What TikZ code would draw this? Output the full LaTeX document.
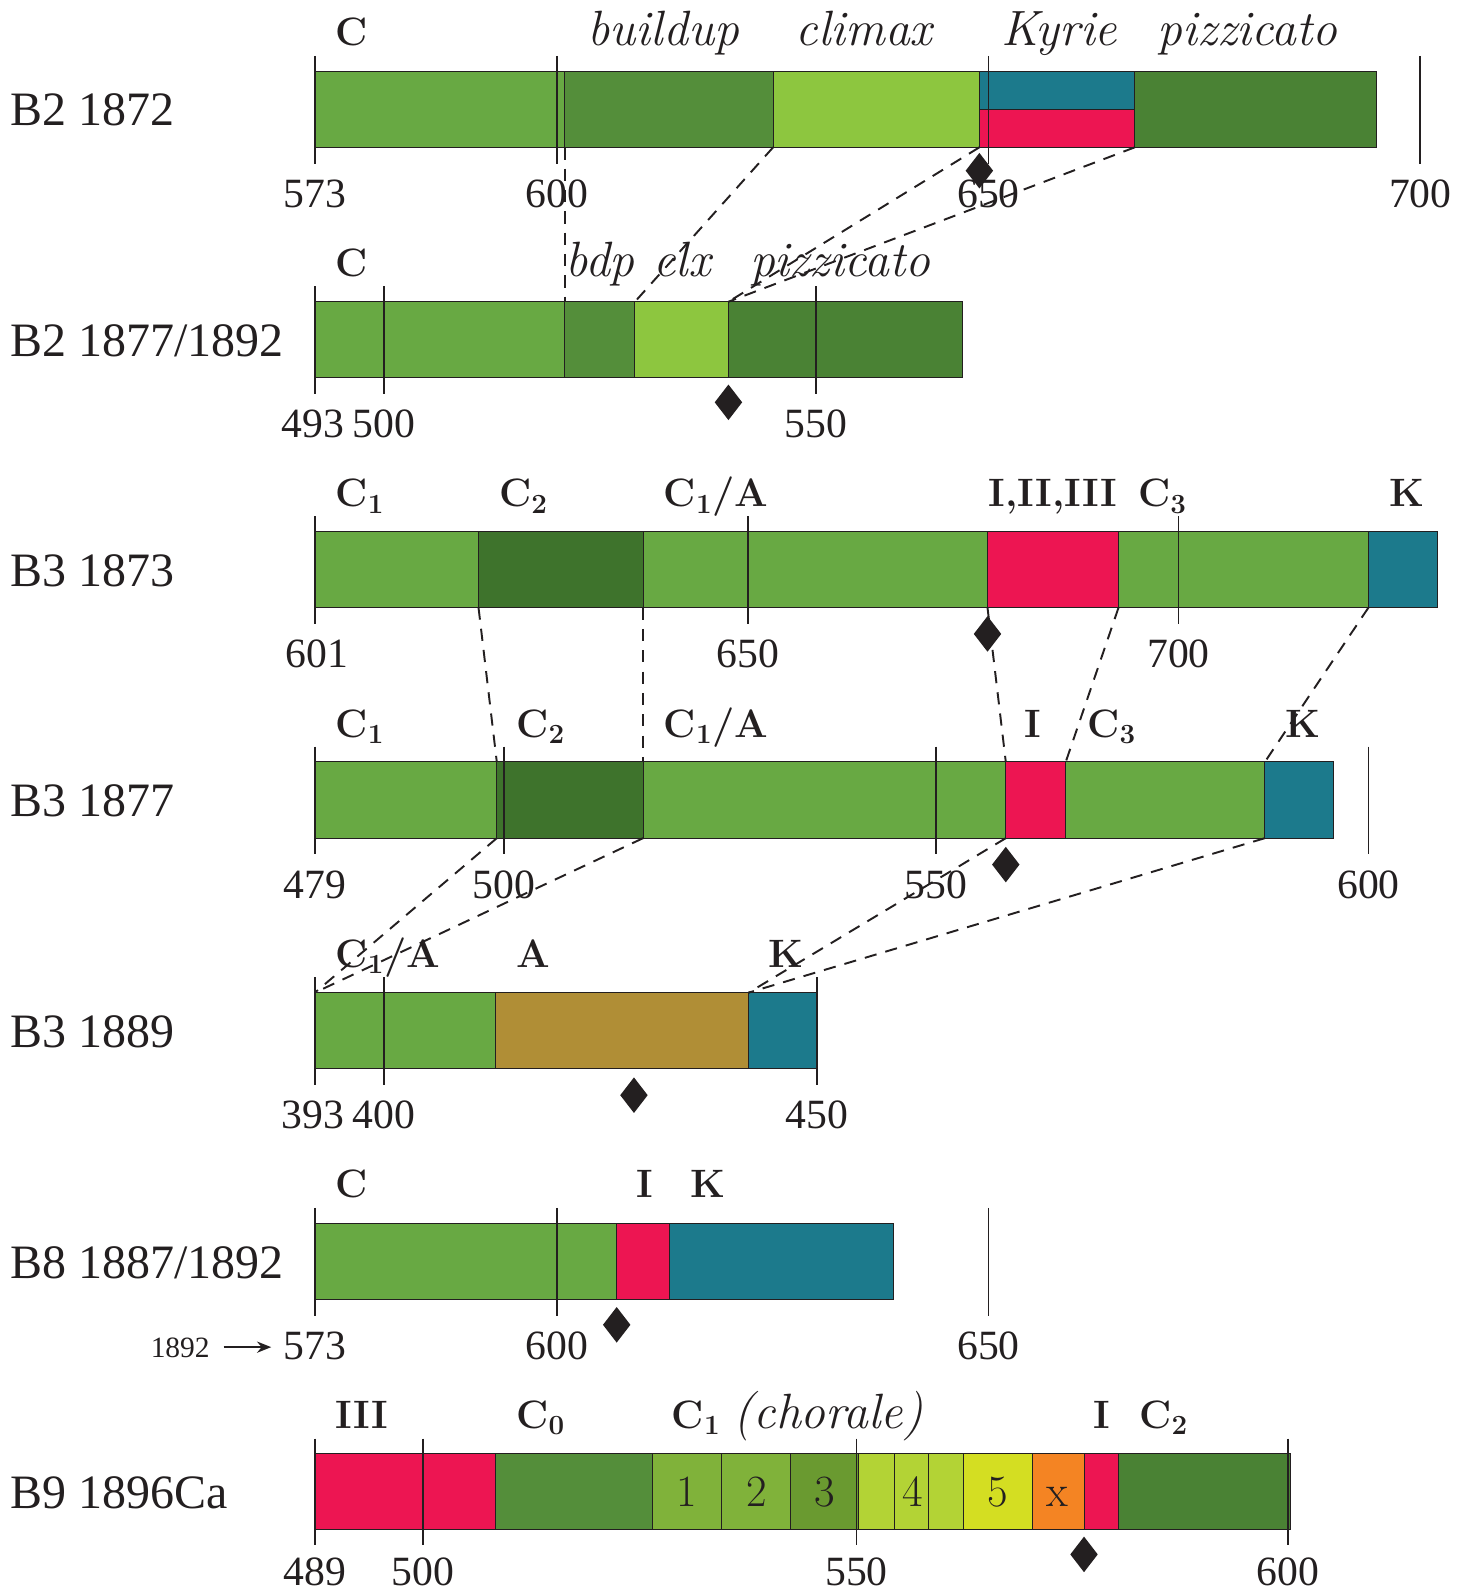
\documentclass[tikz,border=0pt]{standalone}
\usepackage{fontspec}
\newfontfamily\tms{Liberation Serif}
\usetikzlibrary{arrows.meta}
\definecolor{cL}{HTML}{68A943}
\definecolor{cB}{HTML}{548E3A}
\definecolor{cY}{HTML}{8DC63F}
\definecolor{cP}{HTML}{4A8234}
\definecolor{cD}{HTML}{3E732C}
\definecolor{cA}{HTML}{B08E36}
\definecolor{cT}{HTML}{1C7A8C}
\definecolor{cR}{HTML}{ED1552}
\definecolor{cOne}{HTML}{80B23A}
\definecolor{cThree}{HTML}{6A9A30}
\definecolor{cFour}{HTML}{B3D335}
\definecolor{cFive}{HTML}{D4DE22}
\definecolor{cX}{HTML}{F48423}
\definecolor{ink}{HTML}{231F20}
\newcommand\segm[5]{\filldraw[segbox,fill=#5] (#1,#3) rectangle (#2,#4);}
\newcommand\tck[3]{\draw[tickln] (#1,#2-15) -- (#1,#3+16);}
\newcommand\dmd[2]{\fill[ink] (#1,#2) +(0,-17.5) -- +(13.5,0) -- +(0,17.5) -- +(-13.5,0) -- cycle;}
\begin{document}
\begin{tikzpicture}[x=0.5pt,y=-0.5pt,
  segbox/.style={draw=ink,line width=0.5pt},
  tickln/.style={draw=ink,line width=0.9pt},
  link/.style={draw=ink,line width=0.95pt,dash pattern=on 6pt off 4.5pt},
  rowlab/.style={anchor=base west,inner sep=0pt,font=\tms\fontsize{23.6}{23.6}\selectfont,text=ink},
  num/.style={anchor=base,inner sep=0pt,font=\tms\fontsize{20.5}{20.5}\selectfont,text=ink},
  blab/.style={anchor=base west,inner sep=0pt,font=\fontsize{19.5}{19.5}\selectfont\bfseries,text=ink},
  ilab/.style={anchor=base west,inner sep=0pt,font=\fontsize{24.4}{24.4}\selectfont\itshape,text=ink},
  boxnum/.style={anchor=base,inner sep=0pt,font=\fontsize{22}{22}\selectfont,text=ink}]
\useasboundingbox (0,0) rectangle (1434,1568);

% ---------------- Row 1: B2 1872
\node[rowlab] (l1) at (10,124) {B2 1872};
\segm{310}{556}{70}{145}{cL}
\segm{556}{761}{70}{145}{cB}
\segm{761}{964}{70}{145}{cY}
\segm{964}{1117}{70}{107.5}{cT}
\segm{964}{1117}{107.5}{145}{cR}
\segm{1117}{1355}{70}{145}{cP}
\tck{310}{70}{145}\tck{548}{70}{145}\tck{973}{70}{145}\tck{1398}{70}{145}
\node[num] (n1a) at (310,204) {573};
\node[num] (n1b) at (548,204) {600};
\node[num] (n1c) at (973,204) {650};
\node[num] (n1d) at (1398,204) {700};
\node[blab] (t1a) at (330,45) {C};
\node[ilab] (t1b) at (578,45) {buildup};
\node[ilab] (t1c) at (783,45) {climax};
\node[ilab] (t1d) at (985,45) {Kyrie};
\node[ilab] (t1e) at (1139,45) {pizzicato};

% ---------------- Row 2: B2 1877/1892
\node[rowlab] (l2) at (10,351) {B2 1877/1892};
\segm{310}{556}{297}{372}{cL}
\segm{556}{625}{297}{372}{cB}
\segm{625}{717}{297}{372}{cY}
\segm{717}{947}{297}{372}{cP}
\tck{310}{297}{372}\tck{378}{297}{372}\tck{803}{297}{372}
\node[num] (n2a) at (308,431) {493};
\node[num] (n2b) at (378,431) {500};
\node[num] (n2c) at (803,431) {550};
\node[blab] (t2a) at (330,272) {C};
\node[ilab] (t2b) at (556,272) {bdp};
\node[ilab] (t2c) at (643,272) {clx};
\node[ilab] (t2d) at (738,272) {pizzicato};

% ---------------- Row 3: B3 1873
\node[rowlab] (l3) at (10,577) {B3 1873};
\segm{310}{471}{523}{598}{cL}
\segm{471}{633}{523}{598}{cD}
\segm{633}{972}{523}{598}{cL}
\segm{972}{1101}{523}{598}{cR}
\segm{1101}{1347}{523}{598}{cL}
\segm{1347}{1415}{523}{598}{cT}
\tck{310}{523}{598}\tck{736}{523}{598}\tck{1160}{523}{598}
\node[num] (n3a) at (312,657) {601};
\node[num] (n3b) at (736,657) {650};
\node[num] (n3c) at (1160,657) {700};
\node[blab] (t3a) at (330,499) {C\textsubscript{1}};
\node[blab] (t3b) at (491,499) {C\textsubscript{2}};
\node[blab] (t3c) at (653,499) {C\textsubscript{1}/A};
\node[blab] (t3d) at (973,499) {I,II,III};
\node[blab] (t3e) at (1120,499) {C\textsubscript{3}};
\node[blab] (t3f) at (1367,499) {K};

% ---------------- Row 4: B3 1877
\node[rowlab] (l4) at (10,804) {B3 1877};
\segm{310}{489}{750}{825}{cL}
\segm{489}{633}{750}{825}{cD}
\segm{633}{990}{750}{825}{cL}
\segm{990}{1049}{750}{825}{cR}
\segm{1049}{1245}{750}{825}{cL}
\segm{1245}{1313}{750}{825}{cT}
\tck{310}{750}{825}\tck{496}{750}{825}\tck{921}{750}{825}\tck{1347}{750}{825}
\node[num] (n4a) at (310,884) {479};
\node[num] (n4b) at (496,884) {500};
\node[num] (n4c) at (921,884) {550};
\node[num] (n4d) at (1347,884) {600};
\node[blab] (t4a) at (330,726) {C\textsubscript{1}};
\node[blab] (t4b) at (508,726) {C\textsubscript{2}};
\node[blab] (t4c) at (653,726) {C\textsubscript{1}/A};
\node[blab] (t4d) at (1008,726) {I};
\node[blab] (t4e) at (1070,726) {C\textsubscript{3}};
\node[blab] (t4f) at (1265,726) {K};

% ---------------- Row 5: B3 1889
\node[rowlab] (l5) at (10,1031) {B3 1889};
\segm{310}{488}{977}{1052}{cL}
\segm{488}{737}{977}{1052}{cA}
\segm{737}{804}{977}{1052}{cT}
\tck{310}{977}{1052}\tck{378}{977}{1052}\tck{804}{977}{1052}
\node[num] (n5a) at (308,1111) {393};
\node[num] (n5b) at (378,1111) {400};
\node[num] (n5c) at (804,1111) {450};
\node[blab] (t5a) at (330,952) {C\textsubscript{1}/A};
\node[blab] (t5b) at (508,952) {A};
\node[blab] (t5c) at (756,952) {K};

% ---------------- Row 6: B8 1887/1892
\node[rowlab] (l6) at (10,1258) {B8 1887/1892};
\segm{310}{607}{1204}{1279}{cL}
\segm{607}{659}{1204}{1279}{cR}
\segm{659}{879}{1204}{1279}{cT}
\tck{310}{1204}{1279}\tck{548}{1204}{1279}\tck{973}{1204}{1279}
\node[num] (n6a) at (310,1338) {573};
\node[num] (n6b) at (548,1338) {600};
\node[num] (n6c) at (973,1338) {650};
\node[blab] (t6a) at (330,1179) {C};
\node[blab] (t6b) at (626,1179) {I};
\node[blab] (t6c) at (679,1179) {K};
\node[anchor=base west,inner sep=0pt,font=\tms\fontsize{14.5}{14.5}\selectfont,text=ink] (y92) at (148,1336) {1892};
\coordinate (arA) at (220,1326);
\coordinate (arB) at (267,1326);
\draw[ink,line width=1pt,-{Stealth[length=7pt,width=5.5pt]}] (arA) -- (arB);

% ---------------- Row 7: B9 1896Ca
\node[rowlab] (l7) at (10,1485) {B9 1896Ca};
\segm{310}{488}{1431}{1505}{cR}
\segm{488}{642}{1431}{1505}{cB}
\segm{642}{710}{1431}{1505}{cOne}
\segm{710}{778}{1431}{1505}{cOne}
\segm{778}{845}{1431}{1505}{cThree}
\segm{845}{880}{1431}{1505}{cFour}
\segm{880}{914}{1431}{1505}{cFour}
\segm{914}{948}{1431}{1505}{cFour}
\segm{948}{1016}{1431}{1505}{cFive}
\segm{1016}{1067}{1431}{1505}{cX}
\segm{1067}{1101}{1431}{1505}{cR}
\segm{1101}{1270}{1431}{1505}{cP}
\tck{310}{1431}{1505}\tck{416}{1431}{1505}\tck{843}{1431}{1505}\tck{1268}{1431}{1505}
\node[num] (n7a) at (310,1561) {489};
\node[num] (n7b) at (416,1561) {500};
\node[num] (n7c) at (843,1561) {550};
\node[num] (n7d) at (1268,1561) {600};
\node[blab] (t7a) at (330,1406) {III};
\node[blab] (t7b) at (508,1406) {C\textsubscript{0}};
\node[blab] (t7c) at (661,1406) {C\textsubscript{1}};
\node[ilab] (t7d) at (722,1406) {(chorale)};
\node[blab] (t7e) at (1076,1406) {I};
\node[blab] (t7f) at (1121,1406) {C\textsubscript{2}};
\node[boxnum] (b1) at (676,1483) {1};
\node[boxnum] (b2) at (745,1483) {2};
\node[boxnum] (b3) at (812,1483) {3};
\node[boxnum] (b4) at (898,1483) {4};
\node[boxnum] (b5) at (982,1483) {5};
\node[boxnum] (bx) at (1041,1483) {x};

% ---------------- connector end points
\coordinate (p1a) at (556,145);  \coordinate (q2a) at (556,297);
\coordinate (p1b) at (761,145);  \coordinate (q2b) at (625,297);
\coordinate (p1c) at (964,145);  \coordinate (q2c) at (717,297);
\coordinate (p1d) at (1117,145);
\coordinate (p3a) at (471,598);  \coordinate (q4a) at (489,750);
\coordinate (p3b) at (633,598);  \coordinate (q4b) at (633,750);
\coordinate (p3c) at (972,598);  \coordinate (q4c) at (990,750);
\coordinate (p3d) at (1101,598); \coordinate (q4d) at (1049,750);
\coordinate (p3e) at (1347,598); \coordinate (q4e) at (1245,750);
\coordinate (p4a) at (489,825);  \coordinate (q5a) at (310,977);
\coordinate (p4b) at (633,825);
\coordinate (p4c) at (990,825);  \coordinate (q5b) at (737,977);
\coordinate (p4d) at (1245,825);

\draw[link] (p1a) -- (q2a);
\draw[link] (p1b) -- (q2b);
\draw[link] (p1c) -- (q2c);
\draw[link] (p1d) -- (q2c);
\draw[link] (p3a) -- (q4a);
\draw[link] (p3b) -- (q4b);
\draw[link] (p3c) -- (q4c);
\draw[link] (p3d) -- (q4d);
\draw[link] (p3e) -- (q4e);
\draw[link] (p4a) -- (q5a);
\draw[link] (p4b) -- (q5a);
\draw[link] (p4c) -- (q5b);
\draw[link] (p4d) -- (q5b);

% ---------------- diamonds
\dmd{964}{168}
\dmd{717}{396}
\dmd{972}{624}
\dmd{990}{851}
\dmd{624}{1078}
\dmd{607}{1304}
\dmd{1067}{1530}
\end{tikzpicture}
\end{document}
